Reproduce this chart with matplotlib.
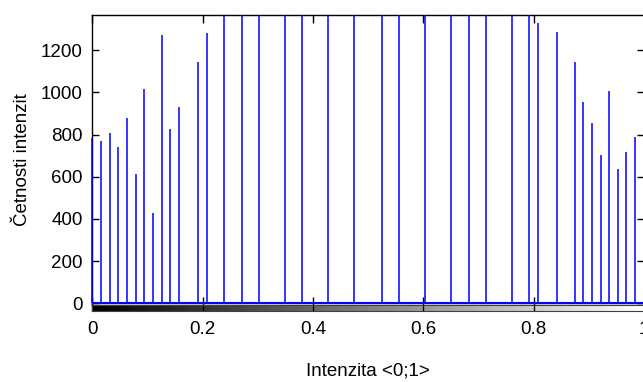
import numpy as np
import matplotlib
matplotlib.use("Agg")
import matplotlib.pyplot as plt
from matplotlib.patches import Rectangle

plt.rcParams['font.family'] = ['Liberation Sans', 'DejaVu Sans']

# Occupied histogram bins (of 256 grey levels) and their counts
bins = [0, 4, 8, 12, 16, 20, 24, 28, 32, 36, 40, 49, 53,
        61, 69, 77, 89, 97, 109, 121, 134, 142, 154, 166, 174, 182, 194, 202,
        206, 215, 223, 227, 231, 235, 239, 243, 247, 251]
counts = [785, 771, 809, 741, 877, 612, 1015, 430, 1274, 827, 931, 1143, 1281,
          1620, 1750, 1580, 1840, 1690, 1900, 1760, 1650, 1820, 1700, 1560, 1880, 1730, 1610, 1790,
          1328, 1289, 1143, 953, 854, 703, 1007, 636, 718, 788]

n_levels = 256
x_ticks = [0, 0.2, 0.4, 0.6, 0.8, 1]
x_tick_labels = ['0', '0.2', '0.4', '0.6', '0.8', '1']
y_ticks = [0, 200, 400, 600, 800, 1000, 1200]

W, H = 643, 382
fig = plt.figure(figsize=(W / 100, H / 100), dpi=100)

# main axes in pixel coordinates
left, right, top, bottom = 92.3, 643.8, 14.5, 304.5
ax = fig.add_axes([left / W, (H - bottom) / H, (right - left) / W, (bottom - top) / H])

xs = np.array(bins) / (n_levels - 1)
stems = ax.vlines(xs, 0, counts, colors='#0000ff', linewidth=1.1, zorder=3)
# clip only at the top so the stem at x=0 stays fully visible over the spine
stems.set_clip_path(Rectangle((-0.02, -0.1), 1.04, 1.1, transform=ax.transAxes))
ax.axhline(0, color='#0000ff', linewidth=1.5, zorder=3)

ax.set_xlim(0, 1)
ax.set_ylim(-6, 1370)
ax.set_xticks(x_ticks)
ax.set_yticks(y_ticks)
ax.tick_params(axis='x', direction='in', length=6, width=1, top=True, labelbottom=False)
ax.tick_params(axis='y', direction='in', length=5, width=1, right=True,
               labelsize=13.5, pad=7)
for s in ax.spines.values():
    s.set_linewidth(1.0)
    s.set_color('black')

ax.set_ylabel('Četnosti intenzit', fontsize=13.5)
ax.yaxis.set_label_coords(-0.112, 0.5)

# grey-level gradient bar under the histogram
cb_top, cb_bottom = 305, 311
cax = fig.add_axes([left / W, (H - cb_bottom) / H, (right - left) / W, (cb_bottom - cb_top) / H])
grad = np.linspace(0, 1, n_levels).reshape(1, -1)
cax.imshow(grad, cmap='gray', aspect='auto', extent=[0, 1, 0, 1], vmin=0, vmax=1)
cax.set_xlim(0, 1)
cax.set_yticks([])
cax.set_xticks(x_ticks)
cax.set_xticklabels(x_tick_labels)
cax.tick_params(axis='x', direction='in', length=4, width=1, labelsize=13.5, pad=7)
for s in cax.spines.values():
    s.set_linewidth(0.8)
    s.set_color('#404040')
cax.set_xlabel('Intenzita <0;1>', fontsize=13.5, labelpad=18)

fig.savefig('out.png', dpi=100)
